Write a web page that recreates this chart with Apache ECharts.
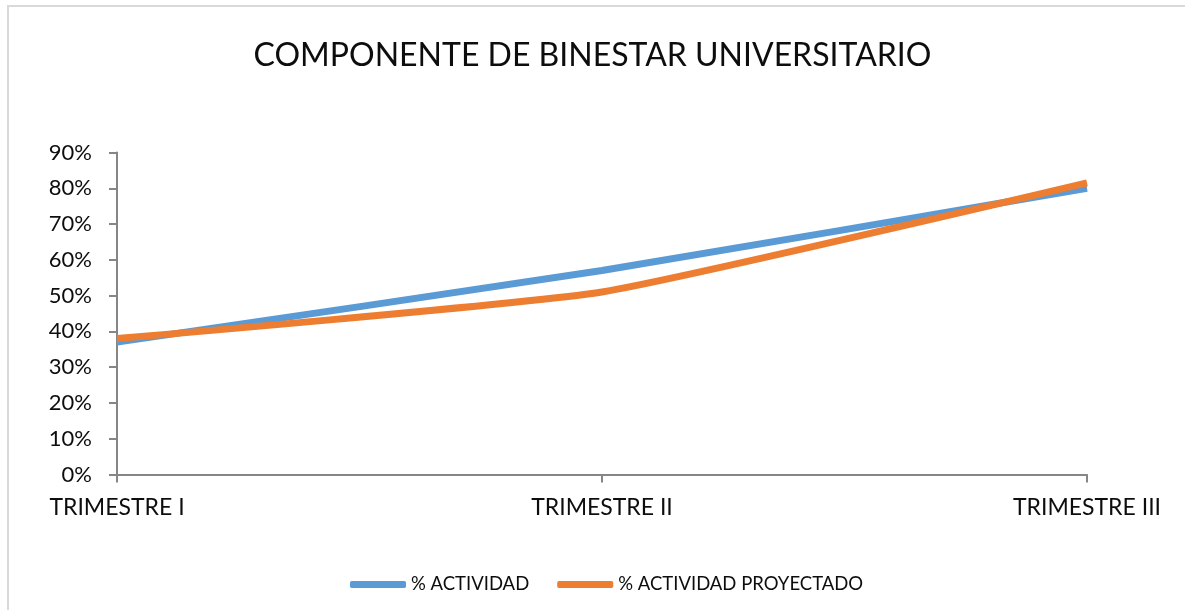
<!DOCTYPE html>
<html>
<head>
<meta charset="utf-8">
<script src="https://cdn.jsdelivr.net/npm/echarts@6/dist/echarts.min.js"></script>
<style>
html,body{margin:0;padding:0;background:#fff;}
#chart{width:1185px;height:610px;}
</style>
</head>
<body>
<div id="chart"></div>
<script>
const categories = ['TRIMESTRE I', 'TRIMESTRE II', 'TRIMESTRE III'];
const actividad = [0.37, 0.57, 0.80];
const proyectado = [0.38, 0.51, 0.815];
const seriesNames = ['% ACTIVIDAD', '% ACTIVIDAD PROYECTADO'];
const titleText = 'COMPONENTE DE BINESTAR UNIVERSITARIO';

const FONT = 'Lato';
const chart = echarts.init(document.getElementById('chart'), null, {renderer: 'canvas'});
chart.setOption({
  backgroundColor: '#ffffff',
  animation: false,
  title: {
    text: titleText,
    left: 'center',
    top: 35,
    textStyle: {fontFamily: FONT, fontSize: 32, fontWeight: 'normal', color: '#0d0d0d'}
  },
  graphic: [{
    type: 'rect',
    shape: {x: 8, y: 6, width: 1200, height: 640},
    style: {fill: 'none', stroke: '#d9d9d9', lineWidth: 2},
    silent: true,
    z: -1
  }],
  legend: {
    data: seriesNames,
    left: 345,
    top: 570,
    icon: 'roundRect',
    itemWidth: 56,
    itemHeight: 7,
    itemGap: 28,
    textStyle: {fontFamily: FONT, fontSize: 18.5, color: '#0d0d0d'}
  },
  grid: {left: 117, right: 98, top: 152.5, bottom: 135.5, containLabel: false},
  xAxis: {
    type: 'category',
    data: categories,
    boundaryGap: false,
    axisLine: {lineStyle: {color: '#868686', width: 2}},
    axisTick: {show: true, length: 8, lineStyle: {color: '#868686', width: 2}},
    axisLabel: {fontFamily: FONT, fontSize: 23, color: '#0d0d0d', margin: 22}
  },
  yAxis: {
    type: 'value',
    min: 0,
    max: 0.9,
    interval: 0.1,
    axisLine: {show: true, lineStyle: {color: '#868686', width: 2}},
    axisTick: {show: true, length: 8, lineStyle: {color: '#868686', width: 2}},
    splitLine: {show: false},
    axisLabel: {
      fontFamily: FONT, fontSize: 22, color: '#0d0d0d', margin: 25,
      formatter: v => Math.round(v * 100) + '%'
    }
  },
  series: [
    {
      name: seriesNames[0], type: 'line', data: actividad,
      smooth: 0.15, symbol: 'none',
      lineStyle: {color: '#5b9bd5', width: 7, cap: 'butt'},
      itemStyle: {color: '#5b9bd5'}
    },
    {
      name: seriesNames[1], type: 'line', data: proyectado,
      smooth: 0.15, symbol: 'none',
      lineStyle: {color: '#ed7d31', width: 7, cap: 'butt'},
      itemStyle: {color: '#ed7d31'}
    }
  ]
});
</script>
</body>
</html>
